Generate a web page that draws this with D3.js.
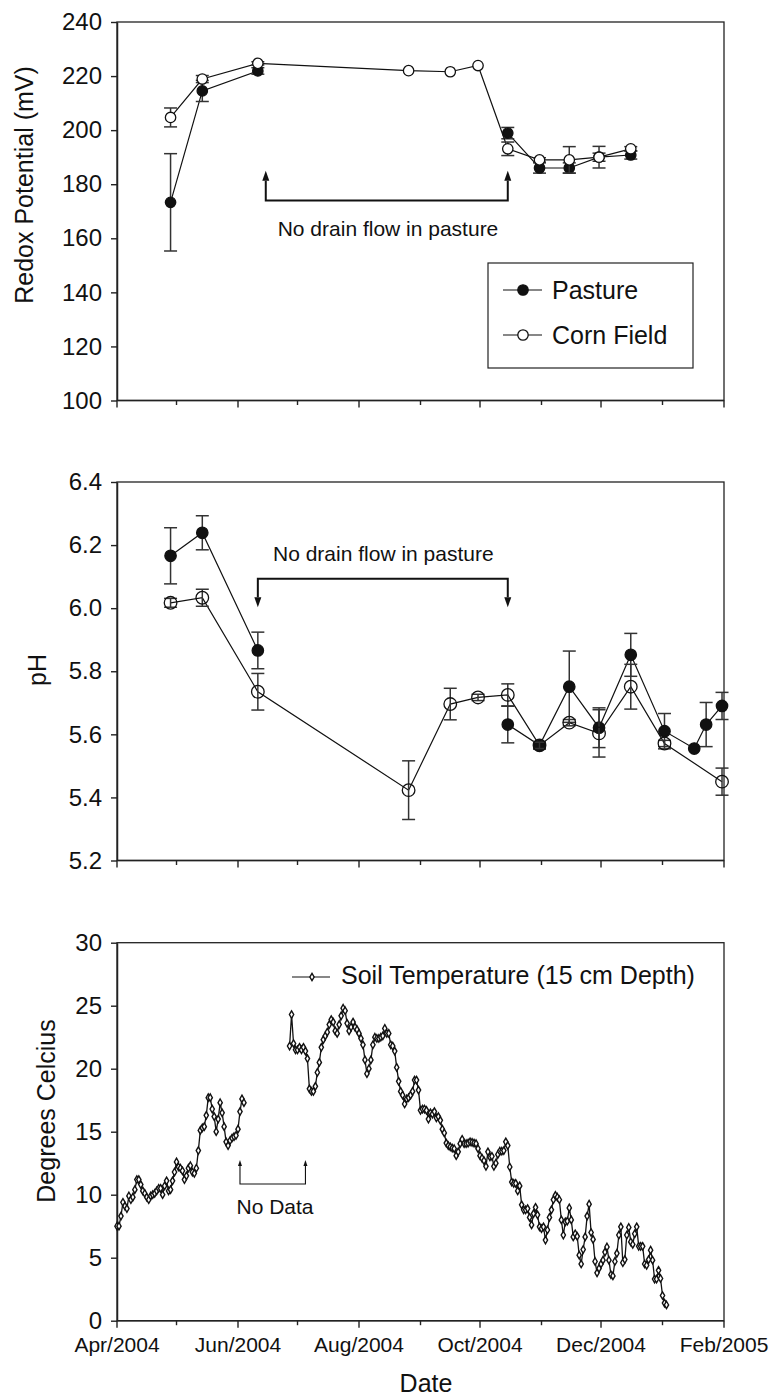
<!DOCTYPE html>
<html>
<head>
<meta charset="utf-8">
<script src="https://cdn.jsdelivr.net/npm/d3@7"></script>
<style>
  body { margin: 0; background: #fff; }
  text { font-family: "Liberation Sans", Arial, Helvetica, sans-serif; fill: #111; }
</style>
</head>
<body>
<svg id="fig" width="775" height="1398"></svg>
<script>
// ---------- data ----------
const sampleDates = ["2004-04-28", "2004-05-14", "2004-06-11", "2004-08-26", "2004-09-16",
  "2004-09-30", "2004-10-15", "2004-10-31", "2004-11-15", "2004-11-30", "2004-12-16",
  "2005-01-02", "2005-01-17", "2005-01-23", "2005-01-31"];

// Redox potential (mV); null = pasture drain not flowing
const redoxPasture   = [173.3, 214.5, 221.9, null, null, null, 198.9, 186.0, 186.0, 190.0, 190.8];
const redoxPastureSE = [18, 3.9, 1.2, 0, 0, 0, 2.1, 1.9, 1.9, 1.5, 1.5];
const redoxCorn      = [204.7, 218.9, 224.7, 222.0, 221.6, 223.9, 193.1, 189.0, 189.0, 190.0, 193.1];
const redoxCornSE    = [3.5, 1.3, 0.6, 0, 0, 0, 2.5, 0.8, 4.9, 4.0, 0.8];

// pH; null = not sampled
const phPasture   = [6.166, 6.239, 5.866, null, null, null, 5.631, 5.565, 5.751, 5.621, 5.852, 5.610, 5.555, 5.631, 5.690];
const phPastureSE = [0.089, 0.054, 0.058, 0, 0, 0, 0.058, 0.012, 0.113, 0.063, 0.068, 0.056, 0, 0.070, 0.043];
const phCorn      = [6.017, 6.033, 5.735, 5.423, 5.696, 5.717, 5.725, 5.565, 5.637, 5.603, 5.751, 5.571, null, null, 5.450];
const phCornSE    = [0.014, 0.027, 0.058, 0.093, 0.050, 0.010, 0.035, 0.010, 0.010, 0.075, 0.071, 0.010, 0, 0, 0.043];

// Daily soil temperature at 15 cm (deg C), two logging periods
const soilTempSpringStart = "2004-04-01";
const soilTempSpring = [7.5, 7.5, 8.3, 9.4, 9.1, 8.9, 9.9, 9.6, 9.8, 10.4, 11.2, 11.2, 10.8, 10.3, 10.1,
  9.8, 9.6, 9.9, 10.0, 10.1, 10.3, 10.5, 10.5, 10.0, 10.7, 11.1, 10.3, 10.4, 11.1, 11.8, 12.6, 12.2,
  12.1, 11.9, 11.2, 11.5, 12.1, 12.3, 11.8, 11.7, 12.1, 13.5, 15.1, 15.3, 15.4, 16.3, 17.7, 17.7,
  16.8, 16.2, 15.0, 16.0, 17.3, 16.5, 15.4, 14.2, 13.9, 14.3, 14.5, 14.6, 14.7, 15.2, 16.6, 17.6, 17.3];
const soilTempLateStart = "2004-06-27";
const soilTempLate = [21.8, 24.3, 22.0, 21.5, 21.5, 21.7, 21.5, 21.7, 21.4, 20.8, 18.4, 18.2, 18.2,
  18.6, 19.7, 20.5, 21.7, 22.3, 22.6, 22.9, 23.5, 23.9, 23.7, 23.0, 22.8, 23.5, 24.2, 24.8, 24.6,
  23.6, 23.0, 23.3, 23.7, 23.3, 23.1, 22.8, 22.4, 21.9, 20.7, 19.6, 20.0, 20.7, 21.9, 22.5, 22.4,
  22.4, 22.5, 22.6, 23.2, 22.8, 22.8, 21.9, 21.8, 21.4, 20.1, 19.0,
  18.2, 17.9, 17.2, 17.6, 17.7, 17.9, 18.2, 19.1, 19.1, 18.3, 16.7, 16.8, 16.8, 16.7, 16.0, 16.5,
  16.4, 16.6, 16.1, 16.2, 15.9, 15.2, 14.9, 14.1, 13.9, 13.8, 13.7, 13.65, 13.1, 13.4, 14.05, 14.4,
  14.05, 14.05, 14.1, 14.2, 14.15, 14.1, 14.05, 13.65, 13.1, 12.9, 12.7, 12.25, 13.4, 13.0, 13.05,
  12.25, 12.5, 13.2, 13.45, 13.45, 13.5, 14.2, 13.9, 12.2, 11.0, 10.9, 10.9, 10.3, 10.7, 9.2, 8.8,
  8.8, 8.9, 8.2, 7.6, 8.5, 9.0, 8.4, 7.45, 7.3, 7.45, 6.4, 7.2, 8.2, 8.8, 9.6, 9.95, 9.8, 9.6, 8.0,
  6.8, 7.85, 7.9, 8.95, 8.0, 6.65, 6.9, 6.7, 5.2, 4.5, 5.65, 6.65, 8.3, 9.25, 7.0, 6.45, 4.7, 3.8,
  4.15, 4.5, 4.8, 5.45, 5.85, 4.8, 3.65, 3.55, 4.7, 5.35, 6.8, 7.45, 4.6, 4.85, 6.8, 7.4, 6.25,
  6.05, 6.9, 7.45, 5.9, 5.9, 5.9, 4.5, 4.4, 4.85, 5.6, 4.8, 3.3, 3.3, 4.0, 3.35, 2.0, 1.4, 1.25];

// Axis ticks
const redoxTicks = [100, 120, 140, 160, 180, 200, 220, 240];
const phTicks = [5.2, 5.4, 5.6, 5.8, 6.0, 6.2, 6.4];
const tempTicks = [0, 5, 10, 15, 20, 25, 30];
const dateRange = ["2004-04-01", "2005-02-01"];

// ---------- layout ----------
const parseDay = d3.utcParse("%Y-%m-%d");
const svg = d3.select("#fig");
const FONT_TICK = 24, FONT_XTICK = 21, FONT_TITLE = 25, FONT_NOTE = 21;
const left = 117, right = 724;

const x = d3.scaleUtc().domain(dateRange.map(parseDay)).range([left, right]);

function makePanel(top, bottom, domain, ticks, fmt, showDates) {
  const y = d3.scaleLinear().domain(domain).range([bottom, top]);
  const g = svg.append("g");

  // frame
  g.append("rect").attr("x", left).attr("y", top)
    .attr("width", right - left).attr("height", bottom - top)
    .attr("fill", "none").attr("stroke", "#222").attr("stroke-width", 1.3);

  // y axis
  const ay = g.append("g").attr("transform", `translate(${left},0)`)
    .call(d3.axisLeft(y).tickValues(ticks).tickFormat(fmt).tickSize(6).tickPadding(9).tickSizeOuter(0));
  ay.attr("font-family", null).attr("font-size", null);
  ay.select(".domain").attr("stroke", "#222").attr("stroke-width", 1.5);
  ay.selectAll(".tick line").attr("stroke", "#222").attr("stroke-width", 1.4);
  ay.selectAll(".tick text").style("font-size", FONT_TICK + "px").attr("fill", "#111");

  // x axis: month ticks, every second month longer
  const months = x.ticks(d3.utcMonth.every(1));
  const ax = g.append("g");
  ax.append("line").attr("x1", left).attr("x2", right).attr("y1", bottom).attr("y2", bottom)
    .attr("stroke", "#222").attr("stroke-width", 1.5);
  ax.selectAll("line.tk").data(months).join("line").attr("class", "tk")
    .attr("x1", d => x(d)).attr("x2", d => x(d))
    .attr("y1", bottom)
    .attr("y2", d => bottom + (d.getUTCMonth() % 2 === 1 ? 7 : 4.5))
    .attr("stroke", "#222").attr("stroke-width", 1.4);
  if (showDates) {
    const fmtDate = d3.utcFormat("%b/%Y");
    ax.selectAll("text.tl").data(months.filter(d => d.getUTCMonth() % 2 === 1)).join("text")
      .attr("class", "tl")
      .attr("x", d => x(d)).attr("y", bottom + 31)
      .attr("text-anchor", "middle").style("font-size", FONT_XTICK + "px")
      .text(d => fmtDate(d));
  }
  return { g, y };
}

function yTitle(label, xb, yc) {
  svg.append("text").attr("transform", `translate(${xb},${yc}) rotate(-90)`)
    .attr("text-anchor", "middle").style("font-size", FONT_TITLE + "px").text(label);
}

// filled arrowhead, tip at (px,py); dir -1 points up, +1 points down
function arrowHead(g, px, py, dir, w, h) {
  g.append("path")
    .attr("d", `M${px},${py} L${px - w / 2},${py - dir * h} L${px + w / 2},${py - dir * h} Z`)
    .attr("fill", "#111");
}

function bracket(g, y, d0, d1, tipVal, barVal, dir, sw, w, h) {
  const x0 = x(parseDay(d0)), x1 = x(parseDay(d1));
  const yb = y(barVal), yt = y(tipVal);
  g.append("path")
    .attr("d", `M${x0},${yt - dir * h} L${x0},${yb} L${x1},${yb} L${x1},${yt - dir * h}`)
    .attr("fill", "none").attr("stroke", "#111").attr("stroke-width", sw);
  arrowHead(g, x0, yt, dir, w, h);
  arrowHead(g, x1, yt, dir, w, h);
}

function drawSeries(g, y, dates, vals, ses, opt) {
  const pts = dates.map((d, i) => ({ date: parseDay(d), v: vals[i], se: ses[i] }))
    .slice(0, vals.length);
  const present = pts.filter(p => p.v != null);
  const line = d3.line().x(p => x(p.date)).y(p => y(p.v));
  if (opt.breakAtGaps) line.defined(p => p.v != null);
  g.append("path").datum(opt.breakAtGaps ? pts : present)
    .attr("d", line).attr("fill", "none").attr("stroke", "#111").attr("stroke-width", 1.2);

  const capW = 6.5;
  const eb = g.append("g").attr("stroke", "#333").attr("stroke-width", 1.5);
  present.filter(p => p.se > 0).forEach(p => {
    const cx = x(p.date), ylo = y(p.v - p.se), yhi = y(p.v + p.se);
    eb.append("line").attr("x1", cx).attr("x2", cx).attr("y1", ylo).attr("y2", yhi);
    eb.append("line").attr("x1", cx - capW).attr("x2", cx + capW).attr("y1", ylo).attr("y2", ylo);
    eb.append("line").attr("x1", cx - capW).attr("x2", cx + capW).attr("y1", yhi).attr("y2", yhi);
  });

  g.append("g").selectAll("circle").data(present).join("circle")
    .attr("cx", p => x(p.date)).attr("cy", p => y(p.v)).attr("r", opt.r)
    .attr("fill", opt.fill).attr("stroke", "#111").attr("stroke-width", 1.3);
}

// ---------- panel 1: redox potential ----------
const p1 = makePanel(22, 400.5, [100, 240], redoxTicks, d3.format("d"), false);
drawSeries(p1.g, p1.y, sampleDates, redoxPasture, redoxPastureSE, { r: 5.2, fill: "#111", breakAtGaps: true });
drawSeries(p1.g, p1.y, sampleDates, redoxCorn, redoxCornSE, { r: 5.2, fill: "#fff", breakAtGaps: false });
yTitle("Redox Potential (mV)", 33, 185);
bracket(p1.g, p1.y, "2004-06-15", "2004-10-15", 185, 174, -1, 2, 7, 10);
p1.g.append("text").attr("x", 388).attr("y", 236).attr("text-anchor", "middle")
  .style("font-size", FONT_NOTE + "px").text("No drain flow in pasture");

// legend
const lg = p1.g.append("g").attr("transform", "translate(488,263)");
lg.append("rect").attr("width", 205).attr("height", 105).attr("fill", "#fff")
  .attr("stroke", "#222").attr("stroke-width", 1.2);
[["Pasture", "#111", 27], ["Corn Field", "#fff", 72]].forEach(([name, fill, yy]) => {
  lg.append("line").attr("x1", 15).attr("x2", 54).attr("y1", yy).attr("y2", yy)
    .attr("stroke", "#111").attr("stroke-width", 1.2);
  lg.append("circle").attr("cx", 35).attr("cy", yy).attr("r", 5.2)
    .attr("fill", fill).attr("stroke", "#111").attr("stroke-width", 1.3);
  lg.append("text").attr("x", 64).attr("y", yy + 5.5 + 3).style("font-size", FONT_TITLE + "px").text(name);
});

// ---------- panel 2: pH ----------
const p2 = makePanel(482, 860.5, [5.2, 6.4], phTicks, d3.format(".1f"), false);
drawSeries(p2.g, p2.y, sampleDates, phPasture, phPastureSE, { r: 5.7, fill: "#111", breakAtGaps: true });
drawSeries(p2.g, p2.y, sampleDates, phCorn, phCornSE, { r: 6.3, fill: "none", breakAtGaps: false });
yTitle("pH", 46, 670);
bracket(p2.g, p2.y, "2004-06-11", "2004-10-15", 6.003, 6.093, 1, 2, 7, 10);
p2.g.append("text").attr("x", 273).attr("y", 561)
  .style("font-size", FONT_NOTE + "px").text("No drain flow in pasture");

// ---------- panel 3: soil temperature ----------
const p3 = makePanel(942.7, 1320.7, [0, 30], tempTicks, d3.format("d"), true);
yTitle("Degrees Celcius", 55, 1111);
svg.append("text").attr("x", 426).attr("y", 1392).attr("text-anchor", "middle")
  .style("font-size", FONT_TITLE + "px").text("Date");

function dailySeries(start, vals) {
  const s = parseDay(start);
  return vals.map((v, i) => ({ date: d3.utcDay.offset(s, i), v }));
}
const tempLine = d3.line().x(p => x(p.date)).y(p => p3.y(p.v));
const diamond = d3.symbol().type(d3.symbolDiamond).size(16);
[dailySeries(soilTempSpringStart, soilTempSpring), dailySeries(soilTempLateStart, soilTempLate)]
  .forEach(seg => {
    p3.g.append("path").datum(seg).attr("d", tempLine)
      .attr("fill", "none").attr("stroke", "#111").attr("stroke-width", 1.3);
    p3.g.append("g").selectAll("path").data(seg).join("path")
      .attr("transform", p => `translate(${x(p.date)},${p3.y(p.v)})`)
      .attr("d", diamond).attr("fill", "#fff").attr("stroke", "#111").attr("stroke-width", 1.4);
  });

// gap in logging
bracket(p3.g, p3.y, "2004-06-02", "2004-07-05", 12.75, 10.85, -1, 1.1, 4, 6);
p3.g.append("text").attr("x", 275).attr("y", 1214).attr("text-anchor", "middle")
  .style("font-size", FONT_NOTE + "px").text("No Data");

// legend
const lt = p3.g.append("g").attr("transform", "translate(292,977)");
lt.append("line").attr("x1", 0).attr("x2", 38).attr("stroke", "#111").attr("stroke-width", 1.2);
lt.append("path").attr("transform", "translate(20,0)").attr("d", diamond)
  .attr("fill", "#fff").attr("stroke", "#111").attr("stroke-width", 1.4);
lt.append("text").attr("x", 49).attr("y", 7).style("font-size", FONT_TITLE + "px")
  .text("Soil Temperature (15 cm Depth)");
</script>
</body>
</html>
